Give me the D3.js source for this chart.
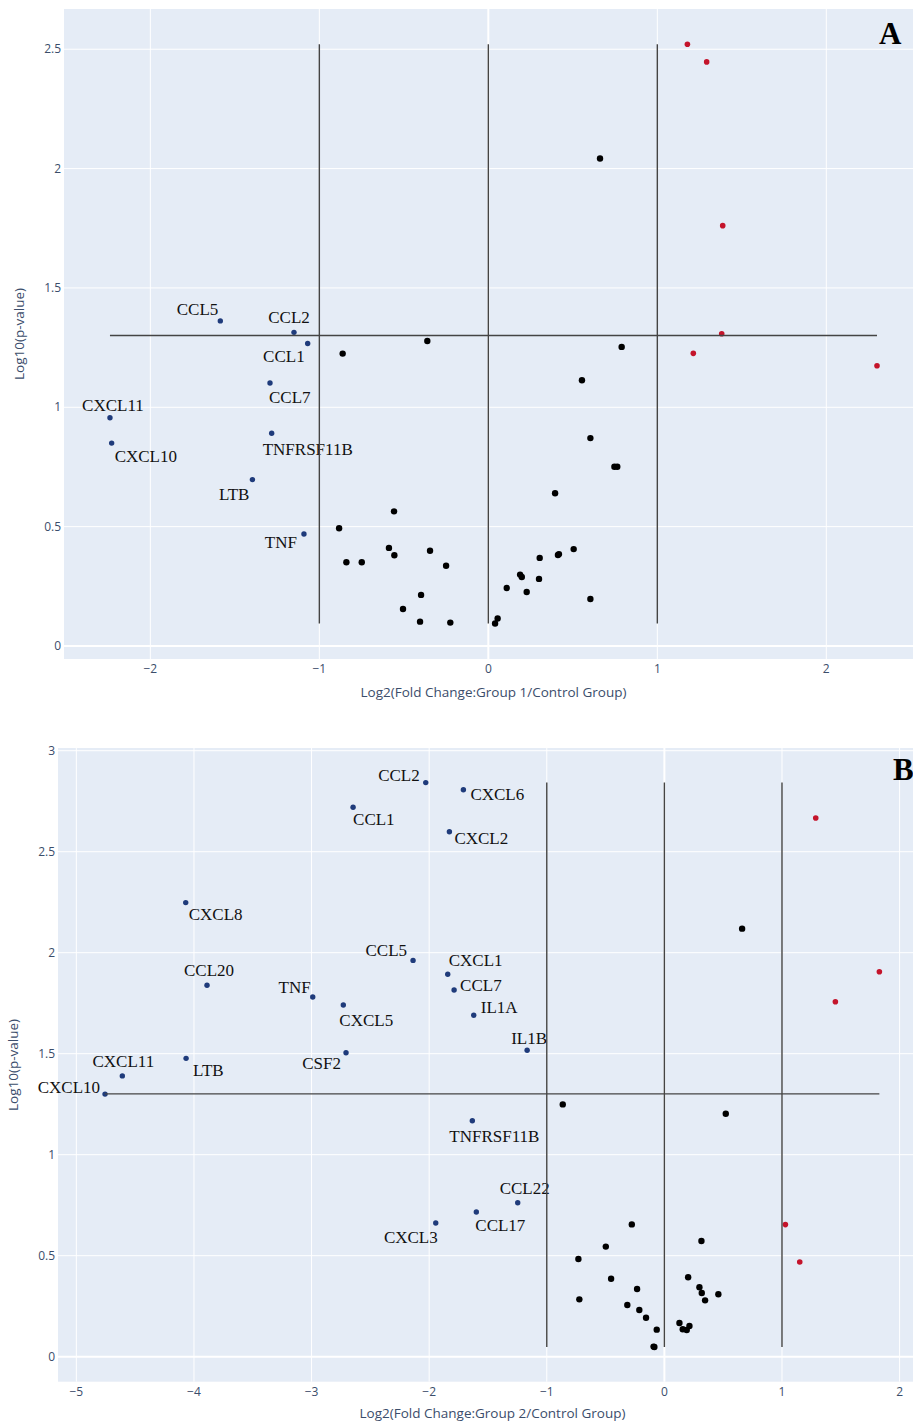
<!DOCTYPE html>
<html>
<head>
<meta charset="utf-8">
<script src="https://cdn.jsdelivr.net/npm/d3@7"></script>
<style>
  body { margin: 0; background: #fff; }
  svg { display: block; }
</style>
</head>
<body>
<svg id="chart" width="913" height="1423"></svg>
<script>
// ---------- panel A : Group 1 vs Control ----------
const genesA = ['CCL5', 'CCL2', 'CCL1', 'CCL7', 'CXCL11', 'CXCL10', 'TNFRSF11B', 'LTB', 'TNF'];
const downAx = [-1.586, -1.150, -1.069, -1.292, -2.239, -2.229, -1.282, -1.396, -1.091];
const downAy = [1.362, 1.314, 1.267, 1.102, 0.956, 0.850, 0.891, 0.697, 0.469];

const upAx = [1.178, 1.292, 1.387, 1.381, 1.213, 2.300];
const upAy = [2.521, 2.447, 1.761, 1.308, 1.226, 1.174];

const nsAx = [-0.862, -0.361, 0.661, 0.789, 0.554, 0.604, 0.746, 0.763, 0.395, -0.558, -0.883,
  -0.588, -0.556, -0.345, -0.840, -0.749, -0.250, -0.398, -0.505, -0.404, -0.225, 0.505,
  0.412, 0.418, 0.304, 0.188, 0.198, 0.300, 0.109, 0.227, 0.604, 0.055, 0.040];
const nsAy = [1.225, 1.278, 2.042, 1.253, 1.113, 0.871, 0.751, 0.751, 0.640, 0.564, 0.493,
  0.411, 0.380, 0.399, 0.351, 0.351, 0.336, 0.214, 0.155, 0.102, 0.098, 0.406,
  0.381, 0.385, 0.369, 0.299, 0.289, 0.281, 0.243, 0.226, 0.197, 0.115, 0.094];

const ticksAx = [-2, -1, 0, 1, 2];
const ticksAy = [0, 0.5, 1, 1.5, 2, 2.5];

// ---------- panel B : Group 2 vs Control ----------
const genesB = ['CCL2', 'CCL1', 'CXCL2', 'CXCL6', 'CXCL8', 'CCL5', 'CXCL1', 'CCL7', 'IL1A', 'IL1B',
  'CCL20', 'TNF', 'CXCL5', 'CSF2', 'LTB', 'CXCL11', 'CXCL10', 'TNFRSF11B', 'CCL22', 'CCL17', 'CXCL3'];
const downBx = [-2.029, -2.647, -1.828, -1.709, -4.070, -2.137, -1.842, -1.788, -1.621, -1.167,
  -3.889, -2.990, -2.730, -2.707, -4.067, -4.609, -4.756, -1.633, -1.247, -1.599, -1.944];
const downBy = [2.842, 2.720, 2.599, 2.807, 2.248, 1.962, 1.893, 1.815, 1.690, 1.517,
  1.839, 1.781, 1.741, 1.505, 1.477, 1.390, 1.300, 1.168, 0.762, 0.716, 0.662];

const upBx = [1.287, 1.828, 1.454, 1.029, 1.151];
const upBy = [2.667, 1.906, 1.757, 0.654, 0.469];

const nsBx = [-0.864, 0.522, 0.661, -0.277, -0.498, -0.731, -0.453, -0.232, -0.723, -0.315, -0.213,
  -0.156, -0.065, -0.092, -0.085, 0.315, 0.202, 0.298, 0.318, 0.459, 0.346, 0.128, 0.213, 0.156, 0.190];
const nsBy = [1.249, 1.203, 2.119, 0.655, 0.545, 0.484, 0.386, 0.335, 0.284, 0.256, 0.231,
  0.193, 0.134, 0.050, 0.048, 0.573, 0.393, 0.344, 0.315, 0.309, 0.279, 0.167, 0.152, 0.136, 0.132];

const ticksBx = [-5, -4, -3, -2, -1, 0, 1, 2];
const ticksBy = [0, 0.5, 1, 1.5, 2, 2.5, 3];

const fcCut = [-1, 0, 1];
const pCut = -Math.log10(0.05);

// label placement (annotation offsets from the marker): [anchor, dx, dy]
const labelPosA = {
  CCL5: ['end', -2, -6], CCL2: ['middle', -5, -9], CCL1: ['end', -3, 18], CCL7: ['start', -1, 20],
  CXCL11: ['middle', 3, -7], CXCL10: ['start', 3, 19], TNFRSF11B: ['start', -9, 22],
  LTB: ['end', -3, 20], TNF: ['end', -7, 14]
};
const labelPosB = {
  CCL2: ['end', -6, -2], CCL1: ['start', 0, 18], CXCL2: ['start', 5, 12], CXCL6: ['start', 7, 10],
  CXCL8: ['start', 3, 17], CCL5: ['end', -6, -4], CXCL1: ['start', 1, -8], CCL7: ['start', 6, 1],
  IL1A: ['start', 7, -2], IL1B: ['middle', 2, -6], CCL20: ['middle', 2, -9], TNF: ['end', -2, -4],
  CXCL5: ['start', -4, 21], CSF2: ['end', -5, 16], LTB: ['start', 7, 18], CXCL11: ['middle', 1, -9],
  CXCL10: ['end', -5, -1], TNFRSF11B: ['start', -23, 21], CCL22: ['middle', 7, -9],
  CCL17: ['start', -1, 19], CXCL3: ['end', 2, 20]
};

const svg = d3.select('#chart');
const tickFont = '"Open Sans", "DejaVu Sans", sans-serif';
const serif = '"Liberation Serif", "DejaVu Serif", serif';
const axisColor = '#3b4d6b';

function drawPanel(p) {
  const x = d3.scaleLinear().domain(p.xRange).range([p.left, p.right]);
  const y = d3.scaleLinear().domain(p.yRange).range([p.bottom, p.top]);
  const g = svg.append('g');

  g.append('rect')
    .attr('x', p.left).attr('y', p.top)
    .attr('width', p.right - p.left).attr('height', p.bottom - p.top)
    .attr('fill', '#e5ecf6');

  // grid
  g.selectAll('.gx').data(p.xTicks).enter().append('line')
    .attr('x1', d => x(d)).attr('x2', d => x(d))
    .attr('y1', p.top).attr('y2', p.bottom)
    .attr('stroke', '#fff').attr('stroke-width', d => d === 0 ? 2 : 1);
  g.selectAll('.gy').data(p.yTicks).enter().append('line')
    .attr('y1', d => y(d)).attr('y2', d => y(d))
    .attr('x1', p.left).attr('x2', p.right)
    .attr('stroke', '#fff').attr('stroke-width', d => d === 0 ? 2 : 1);

  // tick labels
  g.selectAll('.tx').data(p.xTicks).enter().append('text')
    .attr('x', d => x(d)).attr('y', p.bottom + 14)
    .attr('text-anchor', 'middle')
    .style('font-family', tickFont).style('font-size', '12px').attr('fill', axisColor)
    .text(d => d3.format('')(d).replace('-', '\u2212'));
  g.selectAll('.ty').data(p.yTicks).enter().append('text')
    .attr('x', p.left - 3).attr('y', d => y(d)).attr('dy', '0.35em')
    .attr('text-anchor', 'end')
    .style('font-family', tickFont).style('font-size', '12px').attr('fill', axisColor)
    .text(d => d);

  // axis titles
  g.append('text')
    .attr('x', (p.left + p.right) / 2 + p.xTitleShift).attr('y', p.xTitleY)
    .attr('text-anchor', 'middle')
    .style('font-family', tickFont).style('font-size', '13.5px').attr('fill', axisColor)
    .text(p.xTitle);
  g.append('text')
    .attr('transform', `translate(${p.yTitleX},${p.yTitleCy}) rotate(-90)`)
    .attr('text-anchor', 'middle').attr('dy', '0.35em')
    .style('font-family', tickFont).style('font-size', '13.5px').attr('fill', axisColor)
    .text('Log10(p-value)');

  // points
  const ns = p.nsX.map((v, i) => [v, p.nsY[i]]);
  const up = p.upX.map((v, i) => [v, p.upY[i]]);
  const down = p.downX.map((v, i) => [v, p.downY[i], p.genes[i]]);

  g.selectAll('.ns').data(ns).enter().append('circle')
    .attr('cx', d => x(d[0])).attr('cy', d => y(d[1])).attr('r', 3.2).attr('fill', '#000');
  g.selectAll('.up').data(up).enter().append('circle')
    .attr('cx', d => x(d[0])).attr('cy', d => y(d[1])).attr('r', 2.8).attr('fill', '#c4142b');
  g.selectAll('.down').data(down).enter().append('circle')
    .attr('cx', d => x(d[0])).attr('cy', d => y(d[1])).attr('r', 2.7).attr('fill', '#1f3b7b');

  g.selectAll('.lab').data(down).enter().append('text')
    .attr('x', d => x(d[0]) + p.labelPos[d[2]][1])
    .attr('y', d => y(d[1]) + p.labelPos[d[2]][2])
    .attr('text-anchor', d => p.labelPos[d[2]][0])
    .style('font-family', serif).style('font-size', '17px').attr('fill', '#111')
    .text(d => d[2]);

  // threshold lines spanning the data extent
  const all = ns.concat(up, down);
  const xe = d3.extent(all, d => d[0]);
  const ye = d3.extent(all, d => d[1]);
  g.selectAll('.vcut').data(fcCut).enter().append('line')
    .attr('x1', d => x(d)).attr('x2', d => x(d))
    .attr('y1', y(ye[0])).attr('y2', y(ye[1]))
    .attr('stroke', '#444').attr('stroke-width', 1.4);
  g.append('line')
    .attr('x1', x(xe[0])).attr('x2', x(xe[1]))
    .attr('y1', y(pCut)).attr('y2', y(pCut))
    .attr('stroke', '#444').attr('stroke-width', 1.4);

  // panel letter
  g.append('text')
    .attr('x', p.letterX).attr('y', p.letterY)
    .attr('text-anchor', 'start')
    .style('font-family', serif).style('font-size', '31px').style('font-weight', 'bold')
    .attr('fill', '#000')
    .text(p.letter);
}

drawPanel({
  left: 64, right: 913, top: 9, bottom: 659,
  xRange: [-2.511, 2.513], yRange: [-0.0545, 2.6686],
  xTicks: ticksAx, yTicks: ticksAy,
  genes: genesA, downX: downAx, downY: downAy,
  upX: upAx, upY: upAy, nsX: nsAx, nsY: nsAy,
  labelPos: labelPosA,
  xTitle: 'Log2(Fold Change:Group 1/Control Group)', xTitleY: 697, xTitleShift: 5,
  yTitleX: 19, yTitleCy: 334,
  letter: 'A', letterX: 879, letterY: 44
});

drawPanel({
  left: 58, right: 913, top: 748, bottom: 1381.7,
  xRange: [-5.156, 2.114], yRange: [-0.1238, 3.0134],
  xTicks: ticksBx, yTicks: ticksBy,
  genes: genesB, downX: downBx, downY: downBy,
  upX: upBx, upY: upBy, nsX: nsBx, nsY: nsBy,
  labelPos: labelPosB,
  xTitle: 'Log2(Fold Change:Group 2/Control Group)', xTitleY: 1418, xTitleShift: 7,
  yTitleX: 13, yTitleCy: 1065,
  letter: 'B', letterX: 893, letterY: 780
});
</script>
</body>
</html>
